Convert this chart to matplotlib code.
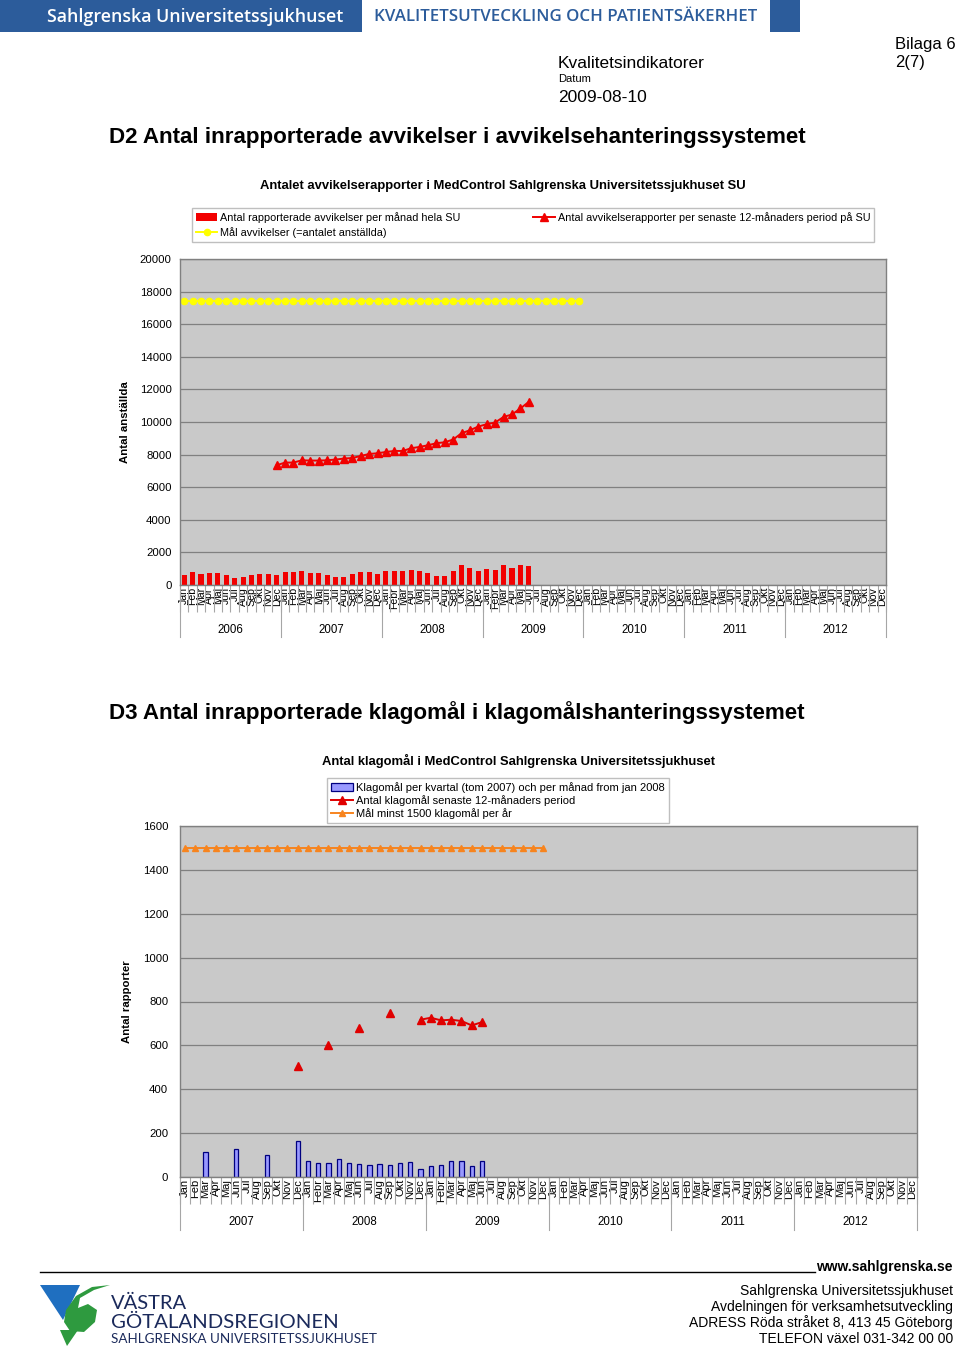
"""
Kvalitetsindikatorer, bilaga 6 sida 2(7):
D2 avvikelser och D3 klagomål i MedControl, Sahlgrenska Universitetssjukhuset.
"""

import numpy as np
import matplotlib
matplotlib.use("Agg")
import matplotlib.pyplot as plt
from matplotlib.patches import Rectangle, Polygon
from matplotlib.lines import Line2D
from matplotlib.transforms import blended_transform_factory

plt.rcParams["font.family"] = ["Liberation Sans", "DejaVu Sans"]

# ── Data ──────────────────────────────────────────────────────────────────────
MONTHS = ["Jan", "Feb", "Mar", "Apr", "Maj", "Jun",
          "Jul", "Aug", "Sep", "Okt", "Nov", "Dec"]
MONTHS_FEBR = ["Jan", "Febr", "Mar", "Apr", "Maj", "Jun",
               "Jul", "Aug", "Sep", "Okt", "Nov", "Dec"]

# D2: Jan 2006 - Dec 2012
years_d2 = [2006, 2007, 2008, 2009, 2010, 2011, 2012]
month_labels_d2 = (MONTHS + MONTHS + MONTHS_FEBR + MONTHS_FEBR
                   + MONTHS + MONTHS + MONTHS)

# avvikelser per månad, Jan 2006 - Jun 2009
deviations_month = [635, 780, 676, 758, 738, 615, 430, 472, 615, 676, 696, 615,
                    780, 780, 860, 738, 738, 635, 472, 512, 656, 820, 820, 656,
                    840, 840, 840, 902, 840, 738, 553, 553, 861, 1209, 1025, 881,
                    963, 943, 1209, 1066, 1209, 1148]
# senaste 12-månaders period, Dec 2006 - Jun 2009
deviations_12m_start = 11
deviations_12m = [7345, 7511, 7511, 7652, 7634, 7634, 7652, 7695, 7757, 7790,
                  7916, 8039, 8082, 8162, 8224, 8224, 8390, 8470, 8574, 8697,
                  8758, 8924, 9312, 9496, 9723, 9865, 9969, 10313, 10461,
                  10830, 11235]
# mål = antalet anställda, Jan 2006 - Dec 2009
goal_d2 = [17400] * 48

# D3: Jan 2007 - Dec 2012
years_d3 = [2007, 2008, 2009, 2010, 2011, 2012]
month_labels_d3 = (MONTHS + MONTHS_FEBR + MONTHS_FEBR
                   + MONTHS + MONTHS + MONTHS)

# klagomål per kvartal (tom 2007) och per månad, Jan 2007 - Jun 2009
complaints = [None, None, 116, None, None, 126, None, None, 99, None, None, 164,
              75, 66, 66, 80, 66, 59, 54, 57, 53, 63, 69, 38,
              48, 53, 71, 71, 48, 74]
# senaste 12-månaders period
complaints_12m = [None, None, None, None, None, None, None, None, None, None,
                  None, 507, None, None, 600, None, None, 681, None, None,
                  746, None, None, 717, 726, 714, 717, 711, 691, 706]
# mål minst 1500 per år, Jan 2007 - Dec 2009
goal_d3 = [1500] * 36

# ── Layout helpers (pixel positions on the 960x1348 page) ────────────────────
W, H = 960, 1348
BLUE = "#2C5C9B"
PLOT_BG = "#C9C9C9"
GRID = "#808080"


def fx(x):
    return x / W


def fy(y):
    return 1 - y / H


def to_array(values):
    return np.array([np.nan if v is None else v for v in values], dtype=float)


def category_axis(ax, labels, years, n, y_bottom, year_y, label_size):
    """Two-level Excel style category axis: months + years."""
    ax.set_xlim(-0.5, n - 0.5)
    ax.set_xticks(np.arange(n))
    ax.set_xticklabels(labels, rotation=90, fontsize=label_size)
    ax.set_xticks(np.arange(n + 1) - 0.5, minor=True)
    ax.tick_params(axis="x", which="major", length=0, pad=1.5)
    ax.tick_params(axis="x", which="minor", length=19.5, width=0.8,
                   color="#A6A6A6", direction="out")
    trans = blended_transform_factory(ax.transData, ax.transAxes)
    for k in range(len(years) + 1):
        xb = k * 12 - 0.5
        ax.plot([xb, xb], [0, y_bottom], transform=trans, color="#A6A6A6",
                lw=0.8, clip_on=False)
    for k, yr in enumerate(years):
        ax.text(k * 12 + 5.5, year_y, str(yr), transform=trans,
                ha="center", va="center", fontsize=8.3)


def style_plot_area(ax):
    ax.set_facecolor(PLOT_BG)
    for side in ["top", "right", "bottom", "left"]:
        ax.spines[side].set_color(GRID)
        ax.spines[side].set_linewidth(1.0)
    ax.yaxis.grid(True, color=GRID, linewidth=0.9)
    ax.set_axisbelow(True)


fig = plt.figure(figsize=(W / 100, H / 100), dpi=100)

# ── Page header ───────────────────────────────────────────────────────────────
fig.add_artist(Rectangle((0, fy(32)), fx(362), 32 / H, transform=fig.transFigure,
                         facecolor=BLUE, edgecolor="none"))
fig.add_artist(Rectangle((fx(770), fy(32)), fx(30), 32 / H,
                         transform=fig.transFigure, facecolor=BLUE,
                         edgecolor="none"))
fig.text(fx(47), fy(17), "Sahlgrenska Universitetssjukhuset", color="white",
         fontsize=12.8, fontweight="semibold", family=["Open Sans", "DejaVu Sans"],
         ha="left", va="center")
fig.text(fx(374), fy(17), "KVALITETSUTVECKLING OCH PATIENTSÄKERHET", color=BLUE,
         fontsize=12.2, fontweight="semibold", family=["Open Sans", "DejaVu Sans"],
         ha="left", va="center")
fig.text(fx(895), fy(44), "Bilaga 6", fontsize=12, ha="left", va="center")
fig.text(fx(895), fy(63), "2(7)", fontsize=12, ha="left", va="center")
fig.text(fx(558), fy(63), "Kvalitetsindikatorer", fontsize=12.5, ha="left", va="center")
fig.text(fx(558), fy(79), "Datum", fontsize=8, ha="left", va="center")
fig.text(fx(558), fy(97), "2009-08-10", fontsize=12.5, ha="left", va="center")

# ── D2 ────────────────────────────────────────────────────────────────────────
fig.text(fx(109), fy(138), "D2 Antal inrapporterade avvikelser i avvikelsehanteringssystemet",
         fontsize=16.1, fontweight="bold", ha="left", va="center")
fig.text(fx(503), fy(186),
         "Antalet avvikelserapporter i MedControl Sahlgrenska Universitetssjukhuset SU",
         fontsize=9.4, fontweight="bold", ha="center", va="center")

ax1 = fig.add_axes([fx(180), fy(585), (886 - 180) / W, (585 - 259) / H])
style_plot_area(ax1)
n1 = len(month_labels_d2)
x_dev = np.arange(len(deviations_month))
bars1 = ax1.bar(x_dev, deviations_month, width=0.6, color="#F20000",
                edgecolor="none",
                label="Antal rapporterade avvikelser per månad hela SU")
x_12m = np.arange(len(deviations_12m)) + deviations_12m_start
line12, = ax1.plot(x_12m, deviations_12m, color="#F00000", marker="^",
                   markersize=5.5, lw=1.4,
                   label="Antal avvikelserapporter per senaste 12-månaders period på SU")
goal1, = ax1.plot(np.arange(len(goal_d2)), goal_d2, color="#FFFF00", marker="o",
                  markersize=4.5, lw=1.4,
                  label="Mål avvikelser (=antalet anställda)")
ax1.set_ylim(0, 20000)
ax1.set_yticks(np.arange(0, 20001, 2000))
ax1.tick_params(axis="y", length=0, pad=6, labelsize=8.2)
ax1.set_ylabel("Antal anställda", fontsize=8.2, fontweight="bold")
ax1.yaxis.set_label_coords((130 - 180) / (886 - 180), 0.5)
category_axis(ax1, month_labels_d2, years_d2, n1,
              (585 - 637) / (585 - 259), (585 - 630) / (585 - 259), 7.6)
ax1.legend(handles=[bars1, goal1, line12], ncol=2, loc="upper left",
           bbox_to_anchor=(fx(192), fy(208)), bbox_transform=fig.transFigure,
           fontsize=7.8, frameon=True, fancybox=False, edgecolor="#B0B0B0",
           handlelength=2.0, handletextpad=0.25, columnspacing=6.7,
           borderpad=0.35, labelspacing=0.4, borderaxespad=0)

# ── D3 ────────────────────────────────────────────────────────────────────────
fig.text(fx(109), fy(713), "D3 Antal inrapporterade klagomål i klagomålshanteringssystemet",
         fontsize=16.1, fontweight="bold", ha="left", va="center")
fig.text(fx(519), fy(761),
         "Antal klagomål i MedControl Sahlgrenska Universitetssjukhuset",
         fontsize=9.4, fontweight="bold", ha="center", va="center")

ax2 = fig.add_axes([fx(180), fy(1177), (917 - 180) / W, (1177 - 826) / H])
style_plot_area(ax2)
n2 = len(month_labels_d3)
bars2 = ax2.bar(np.arange(len(complaints)), to_array(complaints), width=0.42,
                color="#9999FF", edgecolor="#000080", linewidth=0.9,
                label="Klagomål per kvartal (tom 2007) och per månad from jan 2008")
line2, = ax2.plot(np.arange(len(complaints_12m)), to_array(complaints_12m),
                  color="#E00000", marker="^", markersize=5.5, lw=1.4,
                  label="Antal klagomål senaste 12-månaders period")
goal2, = ax2.plot(np.arange(len(goal_d3)), goal_d3, color="#F7841E", marker="^",
                  markersize=5, lw=1.4, label="Mål minst 1500 klagomål per år")
ax2.set_ylim(0, 1600)
ax2.set_yticks(np.arange(0, 1601, 200))
ax2.tick_params(axis="y", length=0, pad=8.5, labelsize=8.2)
ax2.set_ylabel("Antal rapporter", fontsize=8.2, fontweight="bold")
ax2.yaxis.set_label_coords((132 - 180) / (917 - 180), 0.5)
category_axis(ax2, month_labels_d3, years_d3, n2,
              (1177 - 1230) / (1177 - 826), (1177 - 1222) / (1177 - 826), 8.0)
ax2.legend(handles=[bars2, line2, goal2], ncol=1, loc="upper left",
           bbox_to_anchor=(fx(327), fy(778)), bbox_transform=fig.transFigure,
           fontsize=8.05, frameon=True, fancybox=False, edgecolor="#B0B0B0",
           handlelength=2.0, handletextpad=0.25, borderpad=0.35,
           labelspacing=0.2, borderaxespad=0)

# ── Footer ────────────────────────────────────────────────────────────────────
fig.add_artist(Line2D([fx(40), fx(815)], [fy(1272), fy(1272)],
                      transform=fig.transFigure, color="black", lw=1))
fig.text(fx(953), fy(1267), "www.sahlgrenska.se", fontsize=10, fontweight="bold",
         ha="right", va="center")
address = ["Sahlgrenska Universitetssjukhuset",
           "Avdelningen för verksamhetsutveckling",
           "ADRESS Röda stråket 8, 413 45 Göteborg",
           "TELEFON växel 031-342 00 00"]
for k, line in enumerate(address):
    fig.text(fx(953), fy(1291 + 16 * k), line, fontsize=10, ha="right", va="center")


def page_poly(points, color):
    fig.add_artist(Polygon([(fx(x), fy(y)) for x, y in points], closed=True,
                           transform=fig.transFigure, facecolor=color,
                           edgecolor="none"))


page_poly([(40, 1285), (80, 1285), (63, 1320)], "#1F6FC0")
page_poly([(110, 1285), (92, 1287), (76, 1296), (66, 1310), (64, 1322),
           (70, 1331), (84, 1332), (95, 1322), (97, 1310), (88, 1304),
           (78, 1308), (80, 1298), (94, 1290)], "#2E9A3F")
page_poly([(60, 1330), (78, 1330), (67, 1346)], "#2E9A3F")
NAVY = "#1B2A5B"
fig.text(fx(111), fy(1303), "VÄSTRA", fontsize=14.5, color=NAVY, ha="left",
         va="center", family=["Lato", "DejaVu Sans"])
fig.text(fx(111), fy(1322), "GÖTALANDSREGIONEN", fontsize=14.7, color=NAVY,
         ha="left", va="center", family=["Lato", "DejaVu Sans"])
fig.text(fx(111), fy(1339), "SAHLGRENSKA UNIVERSITETSSJUKHUSET", fontsize=9.7,
         color=NAVY, ha="left", va="center", family=["Lato", "DejaVu Sans"])

fig.savefig("out.png", dpi=100)
